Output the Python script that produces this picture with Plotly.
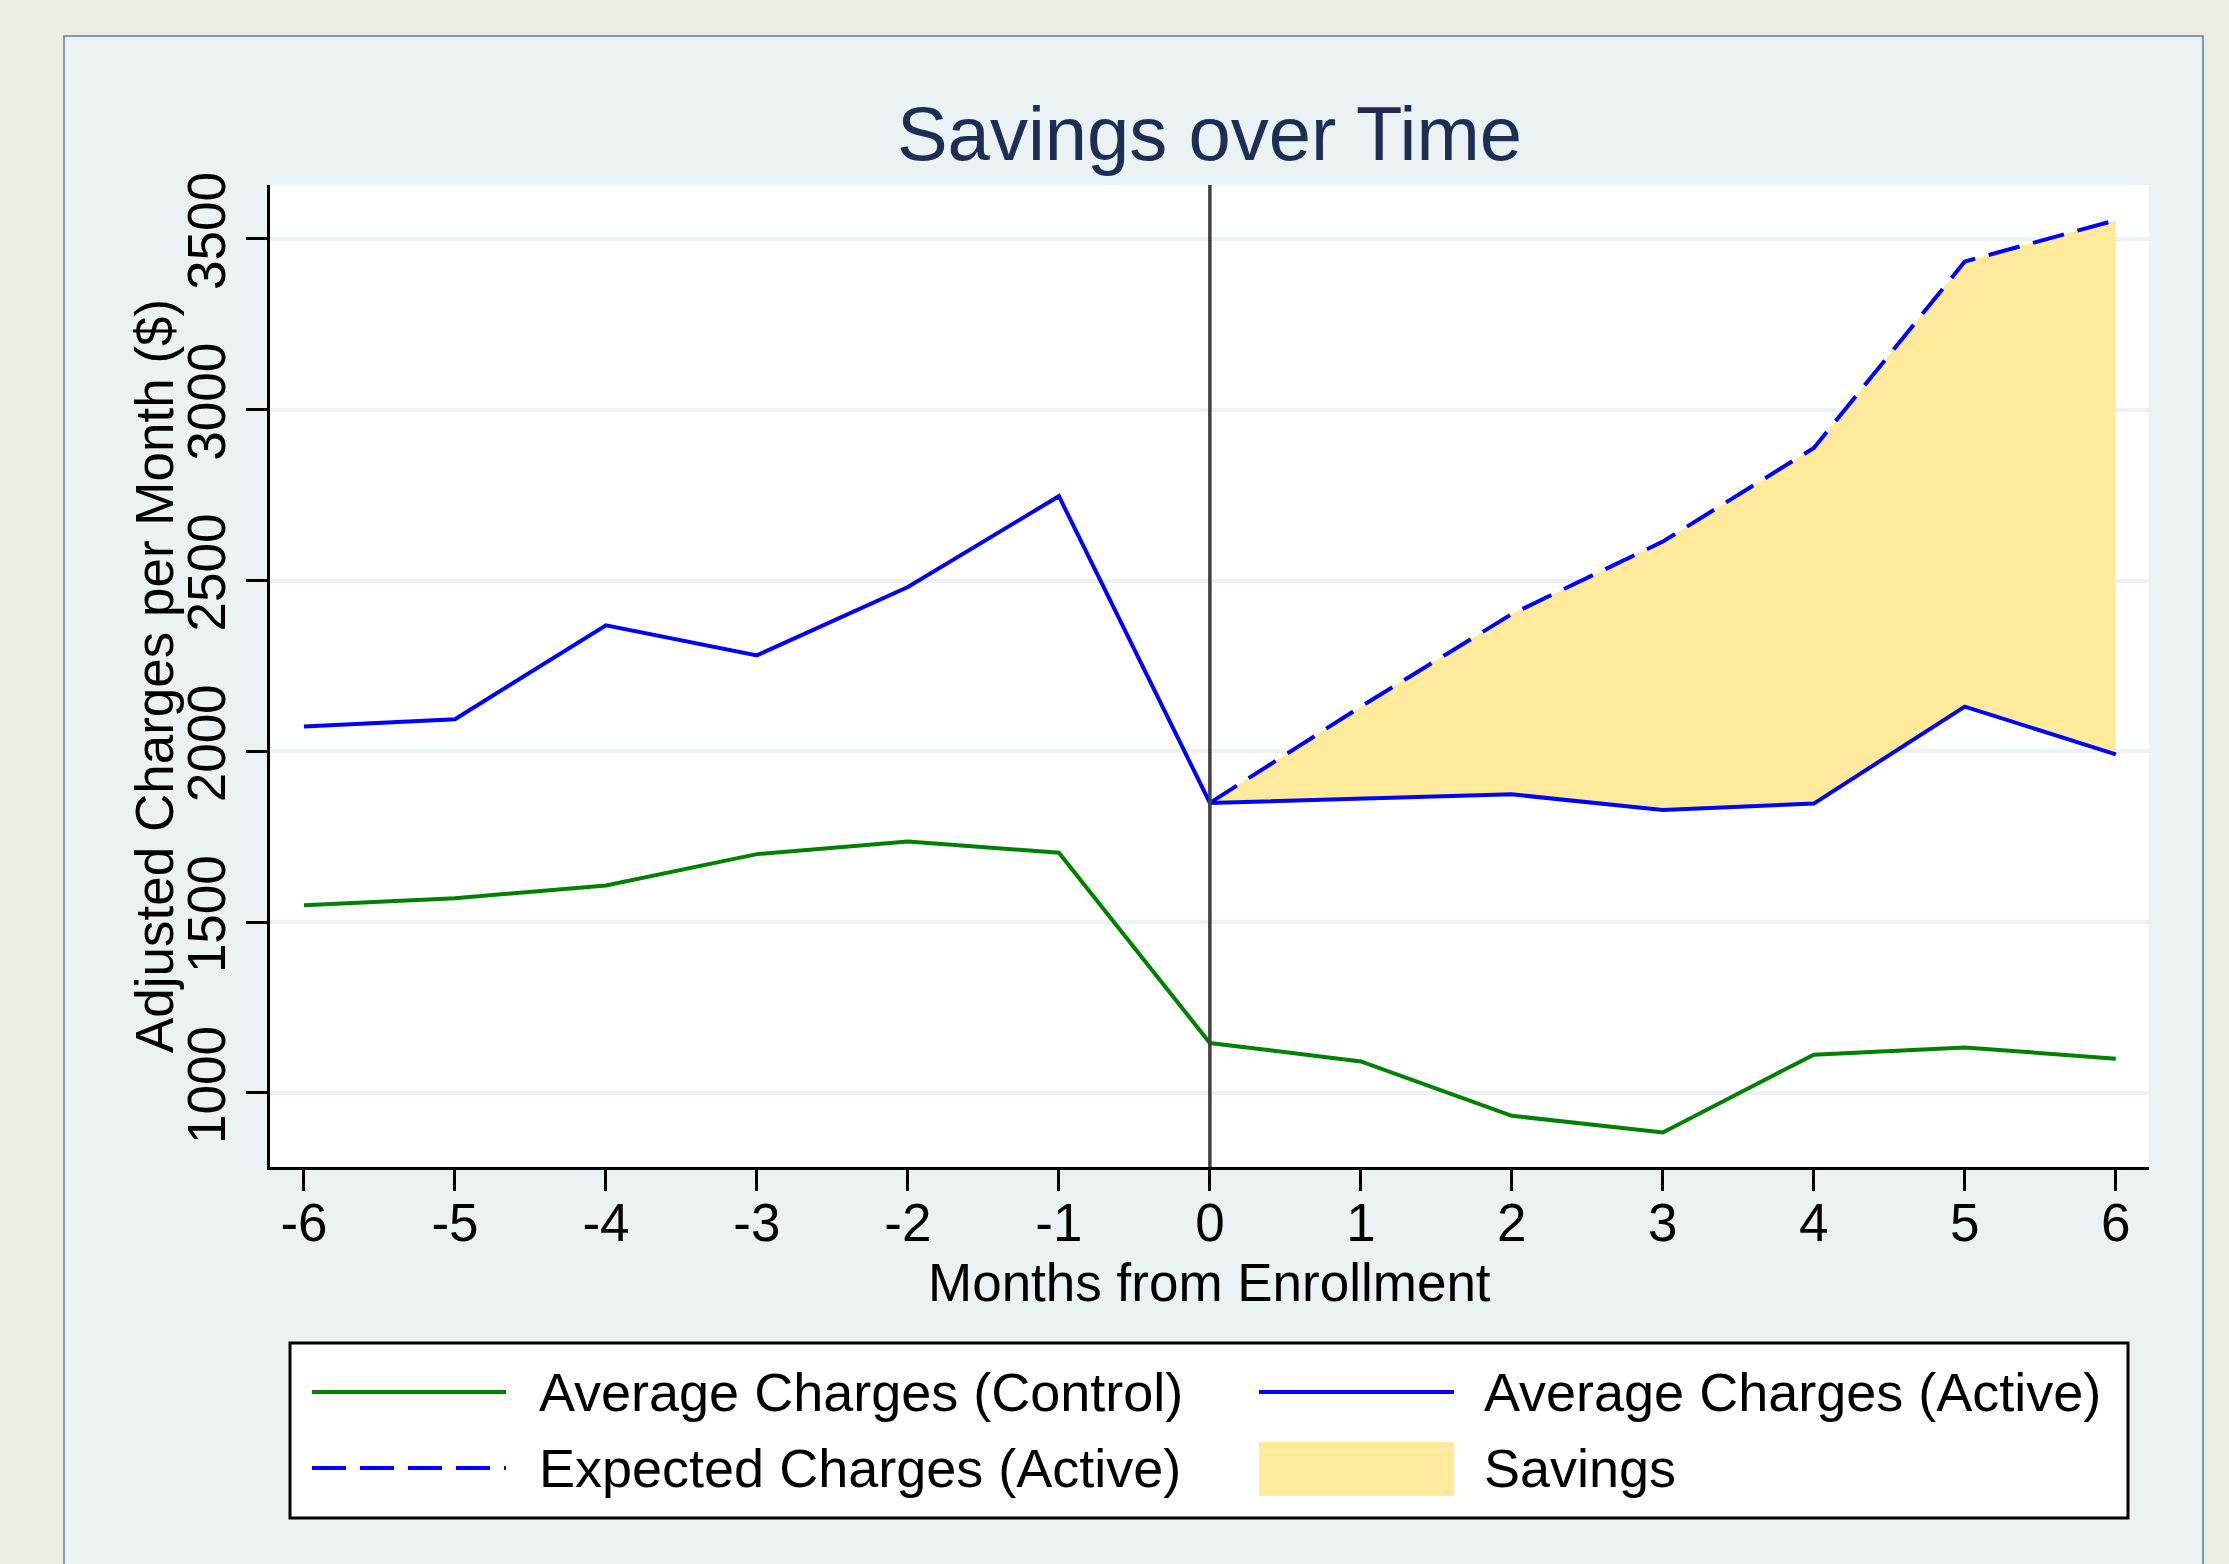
import plotly.graph_objects as go

# ---------------- data ----------------
months = [-6, -5, -4, -3, -2, -1, 0, 1, 2, 3, 4, 5, 6]
avg_control = [1549, 1570, 1607, 1699, 1736, 1703, 1146, 1092, 933, 884, 1112, 1133, 1100]
avg_active = [2073, 2094, 2369, 2281, 2481, 2747, 1849, 1861, 1874, 1828, 1847, 2131, 1991]
post_months = [0, 1, 2, 3, 4, 5, 6]
expected_active = [1849, 2131, 2402, 2614, 2888, 3434, 3555]
y_ticks = [1000, 1500, 2000, 2500, 3000, 3500]
x_ticks = months
x_tick_labels = [str(m) for m in months]
ref_line_x = [0]

title_text = "Savings over Time"
x_title = "Months from Enrollment"
y_title = "Adjusted Charges per Month ($)"
legend_labels = ["Average Charges (Control)", "Average Charges (Active)",
                 "Expected Charges (Active)", "Savings"]

# ---------------- style ----------------
W, H = 2229, 1564
L, R, T, B = 270, 2149, 185, 1167
PW, PH = R - L, B - T
GREEN = "#008000"
BLUE = "#0000FF"
FILL = "#FEEA9A"
PANEL = "#EAF2F3"
OUTER = "#EEEBE0"
FONT = "Liberation Sans, Arial, Helvetica, sans-serif"
FS = 53


def px(xp):
    return (xp - L) / PW


def py(yp):
    return (B - yp) / PH


active_post = [avg_active[months.index(m)] for m in post_months]

fig = go.Figure()

# savings area
fig.add_trace(go.Scatter(x=post_months, y=active_post, mode="lines",
                         line=dict(width=0, color=FILL), showlegend=False,
                         hoverinfo="skip"))
fig.add_trace(go.Scatter(x=post_months, y=expected_active, mode="lines",
                         line=dict(width=0, color=FILL), fill="tonexty",
                         fillcolor=FILL, showlegend=False, name=legend_labels[3]))

fig.add_trace(go.Scatter(x=months, y=avg_control, mode="lines",
                         line=dict(color=GREEN, width=4), name=legend_labels[0],
                         showlegend=False))
fig.add_trace(go.Scatter(x=months, y=avg_active, mode="lines",
                         line=dict(color=BLUE, width=4), name=legend_labels[1],
                         showlegend=False))
fig.add_trace(go.Scatter(x=post_months, y=expected_active, mode="lines",
                         line=dict(color=BLUE, width=4, dash="32px,14px"),
                         name=legend_labels[2], showlegend=False))

shapes = []
# blue-grey panel
shapes.append(dict(type="rect", xref="paper", yref="paper",
                   x0=px(64), x1=px(2203), y0=py(1600), y1=py(36),
                   fillcolor=PANEL, line=dict(color="#5B7DAE", width=1.5),
                   layer="below"))
# plot area white
shapes.append(dict(type="rect", xref="paper", yref="paper",
                   x0=0, x1=1, y0=0, y1=1,
                   fillcolor="white", line=dict(width=0), layer="below"))
# reference line
for xv in ref_line_x:
    shapes.append(dict(type="line", xref="x", yref="paper", x0=xv, x1=xv,
                       y0=0, y1=1, line=dict(color="#404040", width=3.5)))

# legend box
shapes.append(dict(type="rect", xref="paper", yref="paper",
                   x0=px(290), x1=px(2128), y0=py(1518), y1=py(1343),
                   fillcolor="white", line=dict(color="black", width=3)))
row_y = [1392, 1468]
col_x = [(312, 506, 537), (1259, 1454, 1482)]
# legend samples
shapes.append(dict(type="line", xref="paper", yref="paper",
                   x0=px(col_x[0][0]), x1=px(col_x[0][1]), y0=py(row_y[0]), y1=py(row_y[0]),
                   line=dict(color=GREEN, width=4)))
shapes.append(dict(type="line", xref="paper", yref="paper",
                   x0=px(col_x[1][0]), x1=px(col_x[1][1]), y0=py(row_y[0]), y1=py(row_y[0]),
                   line=dict(color=BLUE, width=4)))
shapes.append(dict(type="line", xref="paper", yref="paper",
                   x0=px(col_x[0][0]), x1=px(col_x[0][1]), y0=py(row_y[1]), y1=py(row_y[1]),
                   line=dict(color=BLUE, width=4, dash="34px,14px")))
shapes.append(dict(type="rect", xref="paper", yref="paper",
                   x0=px(col_x[1][0]), x1=px(col_x[1][1]), y0=py(1496), y1=py(1442),
                   fillcolor=FILL, line=dict(width=0)))

annotations = []
positions = [(col_x[0][2], row_y[0]), (col_x[1][2], row_y[0]),
             (col_x[0][2], row_y[1]), (col_x[1][2], row_y[1])]
for lab, (xx, yy) in zip(legend_labels, positions):
    annotations.append(dict(text=lab, xref="paper", yref="paper", x=px(xx), y=py(yy),
                            xanchor="left", yanchor="middle", showarrow=False,
                            font=dict(family=FONT, size=54, color="black")))
# y-axis title
annotations.append(dict(text=y_title, xref="paper", yref="paper", x=px(154), y=0.5,
                        xanchor="center", yanchor="middle", textangle=-90,
                        showarrow=False, font=dict(family=FONT, size=FS, color="black")))
# x-axis title
annotations.append(dict(text=x_title, xref="paper", yref="paper", x=0.5, y=py(1282),
                        xanchor="center", yanchor="middle",
                        showarrow=False, font=dict(family=FONT, size=FS, color="black")))

fig.update_layout(
    width=W, height=H,
    margin=dict(l=L, r=W - R, t=T, b=H - B, pad=0),
    paper_bgcolor=OUTER,
    plot_bgcolor="rgba(0,0,0,0)",
    title=dict(text=title_text, x=(L + R) / 2 / W, xanchor="center",
               y=1 - 133 / H, yanchor="middle",
               font=dict(family=FONT, size=76, color="#1E2D53")),
    font=dict(family=FONT, size=FS, color="black"),
    shapes=shapes,
    annotations=annotations,
    showlegend=False,
    xaxis=dict(range=[-6.225, 6.22], tickvals=x_ticks, ticktext=x_tick_labels,
               ticks="outside", ticklen=21, ticklabelstandoff=-14,
               tickwidth=3, tickcolor="black", showline=True, linecolor="black",
               linewidth=3, showgrid=False, zeroline=False,
               tickfont=dict(family=FONT, size=FS, color="black")),
    yaxis=dict(range=[783, 3658], tickvals=y_ticks, ticks="outside", ticklen=21,
               tickwidth=3, tickcolor="black", showline=True, linecolor="black",
               linewidth=3, showgrid=True, gridcolor=PANEL, gridwidth=3.5,
               zeroline=False, tickangle=-90,
               tickfont=dict(family=FONT, size=FS, color="black")),
)

fig.write_html(
    "out.html",
    config={"displayModeBar": False},
    post_script="document.body.style.margin='0';document.body.style.padding='0';"
                "document.body.style.background='#EEEBE0';",
)
